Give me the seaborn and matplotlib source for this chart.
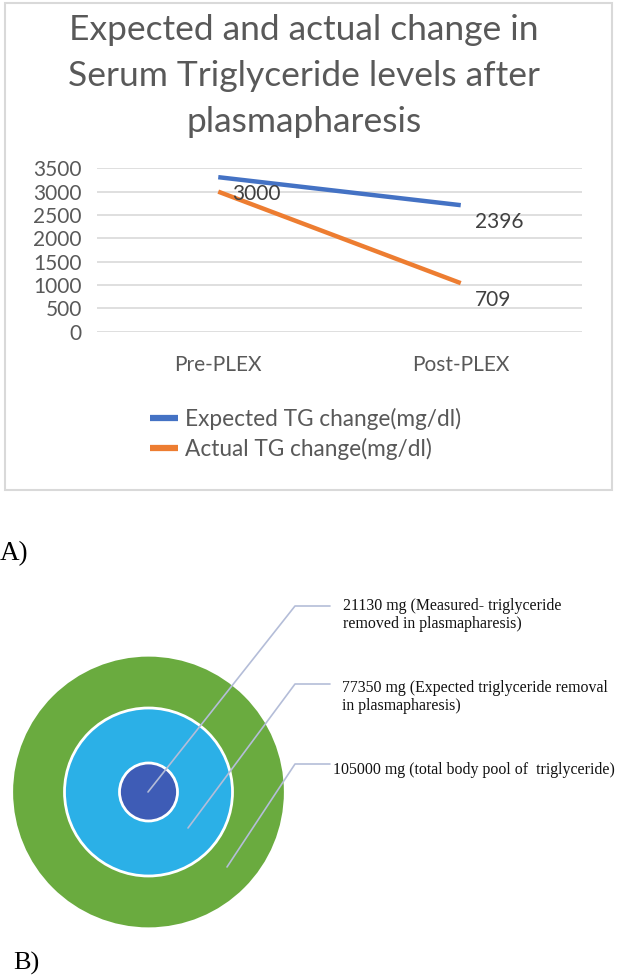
import numpy as np
import pandas as pd
import matplotlib
matplotlib.use("Agg")
import matplotlib.pyplot as plt
from matplotlib.patches import Circle, Rectangle
from matplotlib.lines import Line2D
import seaborn as sns

# ---- data (panel A) ----
stages = ["Pre-PLEX", "Post-PLEX"]
expected_tg = [3310, 2710]
actual_tg = [3000, 1040]
series_names = ["Expected TG change(mg/dl)", "Actual TG change(mg/dl)"]
point_labels_expected = ["", "2396"]
point_labels_actual = ["3000", "709"]
y_ticks = [0, 500, 1000, 1500, 2000, 2500, 3000, 3500]

# ---- data (panel B) ----
pool_labels = [
    "21130 mg (Measured- triglyceride\nremoved in plasmapharesis)",
    "77350 mg (Expected triglyceride removal\nin plasmapharesis)",
    "105000 mg (total body pool of  triglyceride)",
]

sns.set_theme(style="white")
plt.rcParams["font.family"] = ["Lato", "DejaVu Sans"]

W, H = 627, 977
fig = plt.figure(figsize=(W / 100, H / 100), dpi=100)
fig.patch.set_facecolor("white")

GREY = "#595959"
BLUE = "#4472C4"
ORANGE = "#ED7D31"


def px(x, y):
    # pixel position -> figure fraction
    return x / W, 1 - y / H


# chart frame
frame = Rectangle(px(5, 490), 607 / W, 487 / H, transform=fig.transFigure,
                  fill=False, edgecolor="#D9D9D9", linewidth=1.5)
fig.add_artist(frame)

# ---- panel A: line chart ----
ax = fig.add_axes([97 / W, 1 - 331.7 / H, 485 / W, 163.4 / H])
df = pd.DataFrame({
    "stage": list(range(len(stages))) * 2,
    "value": expected_tg + actual_tg,
    "series": [series_names[0]] * 2 + [series_names[1]] * 2,
})
sns.lineplot(data=df, x="stage", y="value", hue="series",
             palette=[BLUE, ORANGE], linewidth=3.2, ax=ax, legend=False)
for ln in ax.get_lines():
    ln.set_solid_capstyle("butt")

ax.set_xlim(-0.5, 1.5)
ax.set_ylim(0, 3500)
ax.set_yticks(y_ticks)
ax.set_yticklabels([str(v) for v in y_ticks])
ax.set_xticks(range(len(stages)))
ax.set_xticklabels(stages)
ax.set_xlabel("")
ax.set_ylabel("")
ax.grid(axis="y", color="#D9D9D9", linewidth=1.2)
ax.set_axisbelow(True)
for s in ax.spines.values():
    s.set_visible(False)
ax.tick_params(axis="y", length=0, pad=11, labelsize=15, labelcolor=GREY)
ax.tick_params(axis="x", length=0, pad=17, labelsize=15, labelcolor=GREY)

for i, lab in enumerate(point_labels_actual):
    if lab:
        dy = -2 if i == 0 else -12
        ax.annotate(lab, (i, actual_tg[i]), xytext=(10, dy),
                    textcoords="offset points", ha="left", va="center",
                    fontsize=15, color="#404040")
for i, lab in enumerate(point_labels_expected):
    if lab:
        ax.annotate(lab, (i, expected_tg[i]), xytext=(10, -12),
                    textcoords="offset points", ha="left", va="center",
                    fontsize=15, color="#404040")

fig.text(*px(304, 76), "Expected and actual change in\nSerum Triglyceride levels after\nplasmapharesis",
         ha="center", va="center", fontsize=25.5, color=GREY, linespacing=1.52)

handles = [Line2D([], [], color=BLUE, linewidth=4.5, solid_capstyle="butt"),
           Line2D([], [], color=ORANGE, linewidth=4.5, solid_capstyle="butt")]
ax.legend(handles, series_names, loc="upper left",
          bbox_to_anchor=px(150, 408), bbox_transform=fig.transFigure,
          frameon=False, fontsize=16.3, labelcolor=GREY, handlelength=1.25,
          handletextpad=0.28, labelspacing=0.33, borderpad=0, borderaxespad=0)

fig.text(*px(0, 554), "A)", ha="left", va="center", fontsize=19.5,
         family="Liberation Serif", color="black")
fig.text(*px(13, 963), "B)", ha="left", va="center", fontsize=19,
         family="Liberation Serif", color="black")

# ---- panel B: nested circles ----
axb = fig.add_axes([0, 0, 1, 1], facecolor="none")
axb.set_xlim(0, W)
axb.set_ylim(H, 0)
axb.axis("off")

cx, cy = 148.5, 792
radii = [134, 84, 29]
fills = ["#6AAB3F", "#2BB0E7", "#3E5CB6"]
for k, (r, c) in enumerate(zip(radii, fills)):
    axb.add_patch(Circle((cx, cy), r, facecolor=c,
                         edgecolor="white" if k else c, linewidth=2, zorder=2 + k))

leaders = [
    [(148, 792), (295, 606), (330, 606)],
    [(188, 828), (295, 684), (330, 684)],
    [(227, 867), (295, 764), (330, 764)],
]
for pts in leaders:
    xs, ys = zip(*pts)
    axb.plot(xs, ys, color="#B4BDD8", linewidth=1.2, zorder=6)

text_pos = [(343, 615), (342, 697), (333, 770)]
for (tx, ty), lab in zip(text_pos, pool_labels):
    axb.text(tx, ty, lab, ha="left", va="center", fontsize=11.4,
             family="Liberation Serif", color="#111111", linespacing=1.1)

fig.savefig("out.png", dpi=100)
